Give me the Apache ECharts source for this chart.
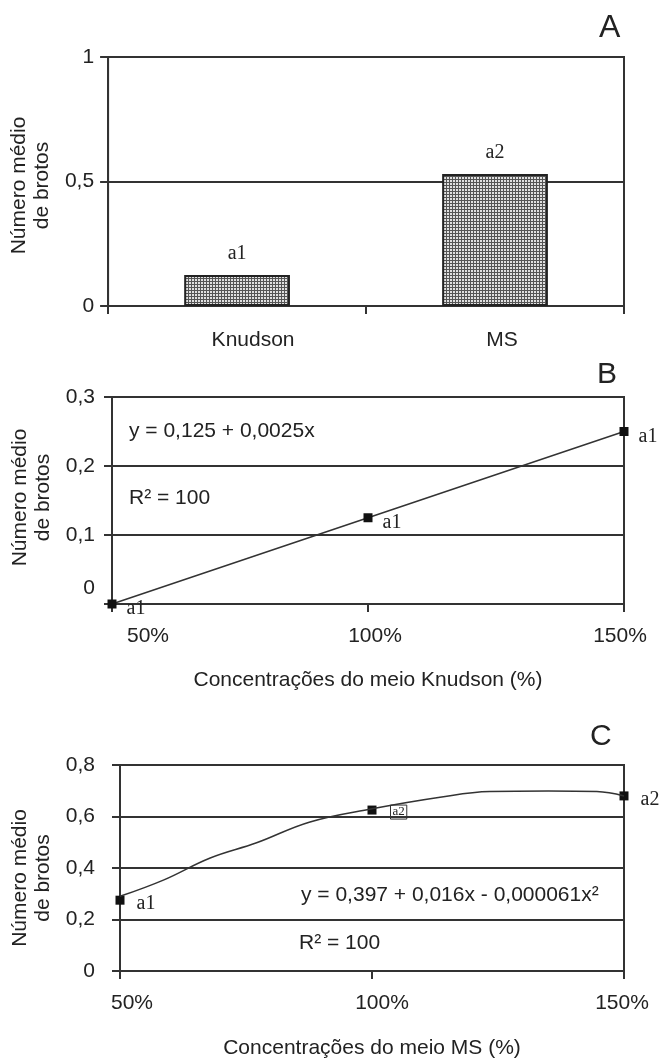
<!DOCTYPE html>
<html>
<head>
<meta charset="utf-8">
<script src="https://cdn.jsdelivr.net/npm/echarts@6/dist/echarts.min.js"></script>
<style>
html, body { margin: 0; padding: 0; background: #fff; }
#chart { width: 661px; height: 1060px; }
</style>
</head>
<body>
<div id="chart"></div>
<script>
// A - meio de cultura
var meios = ['Knudson', 'MS'];
var brotosMeio = [0.125, 0.53];
var letrasMeio = ['a1', 'a2'];

// B e C - concentrações (%)
var concentracoes = [50, 100, 150];
var brotosKnudson = [0, 0.125, 0.25];
var letrasKnudson = ['a1', 'a1', 'a1'];
var brotosMS = [0.275, 0.625, 0.68];
var letrasMS = ['a1', 'a2', 'a2'];

// curva de tendência de C
var curvaX = [50, 58.6, 67.9, 77.1, 87.7, 100, 113.5, 123.4, 135, 144.6, 150];
var curvaY = [0.29, 0.353, 0.439, 0.498, 0.579, 0.63, 0.675, 0.697, 0.699, 0.697, 0.68];

var fonte = 'Liberation Sans, Arial, sans-serif';
var serif = 'Liberation Serif, Times New Roman, serif';
var preto = '#333';

// textura pontilhada das barras
var tile = document.createElement('canvas');
tile.width = 3; tile.height = 3;
var ctx = tile.getContext('2d');
ctx.fillStyle = '#555';
ctx.fillRect(0, 0, 3, 3);
ctx.fillStyle = '#e0e0e0';
ctx.fillRect(0, 0, 2, 2);

function virgula(v) {
    return String(+v.toFixed(2)).replace('.', ',');
}
function pares(xs, ys) {
    var out = [];
    for (var i = 0; i < xs.length; i++) out.push([xs[i], ys[i]]);
    return out;
}

var linha = {color: preto, width: 2};

function eixoY(idx, max, step, margin, gap, pad) {
    return {
        type: 'value', gridIndex: idx, min: 0, max: max, interval: step,
        name: 'Número médio\nde brotos', nameLocation: 'middle', nameRotate: 90, nameGap: gap,
        nameTextStyle: {fontSize: 21, lineHeight: 23, color: '#222', fontFamily: fonte, padding: pad},
        axisLine: {show: true, lineStyle: linha},
        axisTick: {show: true, length: 8, lineStyle: linha},
        axisLabel: {
            fontSize: 21, color: '#222', fontFamily: fonte, margin: margin,
            formatter: function (v) {
                if (idx === 1 && v === 0) return '{up|0}';
                return virgula(v);
            },
            rich: {up: {fontSize: 21, fontFamily: fonte, color: '#222', padding: [0, 0, 32, 0]}}
        },
        splitLine: {show: true, lineStyle: linha}
    };
}

function eixoConc(idx, nome, pads, gap) {
    return {
        type: 'value', gridIndex: idx, min: 50, max: 150, interval: 50,
        name: nome, nameLocation: 'middle', nameGap: gap,
        nameTextStyle: {fontSize: 21, color: '#222', fontFamily: fonte},
        axisLine: {show: true, lineStyle: linha},
        axisTick: {show: true, length: 8, lineStyle: linha},
        splitLine: {show: false},
        axisLabel: {
            fontSize: 21, color: '#222', fontFamily: fonte, margin: 22,
            formatter: function (v) { return '{p' + v + '|' + v + '%}'; },
            rich: {
                p50: {fontSize: 21, fontFamily: fonte, color: '#222', padding: pads[0]},
                p100: {fontSize: 21, fontFamily: fonte, color: '#222', padding: pads[1]},
                p150: {fontSize: 21, fontFamily: fonte, color: '#222', padding: pads[2]}
            }
        }
    };
}

function rotulo(letras, dist, offset) {
    return {
        show: true, position: 'right', distance: dist, offset: offset,
        fontFamily: serif, fontSize: 20, color: '#222',
        formatter: function (p) { return letras[p.dataIndex]; }
    };
}

function texto(x, y, t, size) {
    return {type: 'text', left: x, top: y, style: {text: t, fontSize: size || 21, fontFamily: fonte, fill: '#222'}};
}

var dadosMS = pares(concentracoes, brotosMS).map(function (d, i) {
    var item = {value: d};
    if (i === 1) {
        item.label = {position: 'right', distance: 14, offset: [0, 2], fontSize: 13,
            borderColor: '#333', borderWidth: 1, padding: [1, 2, 0, 2]};
    }
    return item;
});

var myChart = echarts.init(document.getElementById('chart'));
var option = {
    animation: false,
    backgroundColor: '#fff',
    grid: [
        {left: 107, right: 37, top: 57, height: 249, show: true, borderColor: preto, borderWidth: 2},
        {left: 112, right: 37, top: 397, height: 207, show: true, borderColor: preto, borderWidth: 2},
        {left: 120, right: 37, top: 765, height: 208, show: true, borderColor: preto, borderWidth: 2}
    ],
    xAxis: [
        {
            type: 'category', gridIndex: 0, data: meios,
            axisLine: {show: true, lineStyle: linha},
            axisTick: {show: true, length: 8, lineStyle: linha},
            axisLabel: {
                fontSize: 21, color: '#222', fontFamily: fonte, margin: 24,
                formatter: function (v, i) { return '{k' + i + '|' + v + '}'; },
                rich: {
                    k0: {fontSize: 21, fontFamily: fonte, color: '#222', padding: [0, 0, 0, 32]},
                    k1: {fontSize: 21, fontFamily: fonte, color: '#222', padding: [0, 0, 0, 14]}
                }
            }
        },
        eixoConc(1, 'Concentrações do meio Knudson (%)', [[0, 0, 0, 72], [0, 0, 0, 14], [0, 8, 0, 0]], 66),
        eixoConc(2, 'Concentrações do meio MS (%)', [[0, 0, 0, 24], [0, 0, 0, 20], [0, 4, 0, 0]], 67)
    ],
    yAxis: [
        eixoY(0, 1, 0.5, 14, 48, [0, 8, 0, 0]),
        eixoY(1, 0.3, 0.1, 17, 54, [0, 0, 0, 6]),
        eixoY(2, 0.8, 0.2, 25, 62, [0, 20, 0, 0])
    ],
    graphic: [
        texto(599, 12, 'A', 32),
        texto(597, 360, 'B', 30),
        texto(590, 722, 'C', 30),
        texto(129, 421, 'y = 0,125 + 0,0025x'),
        texto(129, 488, 'R² = 100'),
        texto(301, 885, 'y = 0,397 + 0,016x - 0,000061x²'),
        texto(299, 933, 'R² = 100')
    ],
    series: [
        {
            type: 'bar', xAxisIndex: 0, yAxisIndex: 0, data: brotosMeio, barWidth: '41%',
            itemStyle: {color: {image: tile, repeat: 'repeat'}, borderColor: '#222', borderWidth: 2},
            label: {
                show: true, position: 'top', distance: 11,
                fontFamily: serif, fontSize: 20, color: '#222',
                formatter: function (p) { return letrasMeio[p.dataIndex]; }
            }
        },
        {
            type: 'line', xAxisIndex: 1, yAxisIndex: 1, data: pares(concentracoes, brotosKnudson),
            symbol: 'rect', symbolSize: 9, clip: false,
            itemStyle: {color: '#111'},
            lineStyle: {color: '#333', width: 1.5},
            label: rotulo(letrasKnudson, 10, [0, 5])
        },
        {
            type: 'line', xAxisIndex: 2, yAxisIndex: 2, data: pares(curvaX, curvaY),
            symbol: 'none', smooth: 0.4,
            lineStyle: {color: '#333', width: 1.5}
        },
        {
            type: 'scatter', xAxisIndex: 2, yAxisIndex: 2, data: dadosMS,
            symbol: 'rect', symbolSize: 9, clip: false,
            itemStyle: {color: '#111', opacity: 1},
            label: rotulo(letrasMS, 12, [0, 4])
        }
    ]
};
myChart.setOption(option);
</script>
</body>
</html>
